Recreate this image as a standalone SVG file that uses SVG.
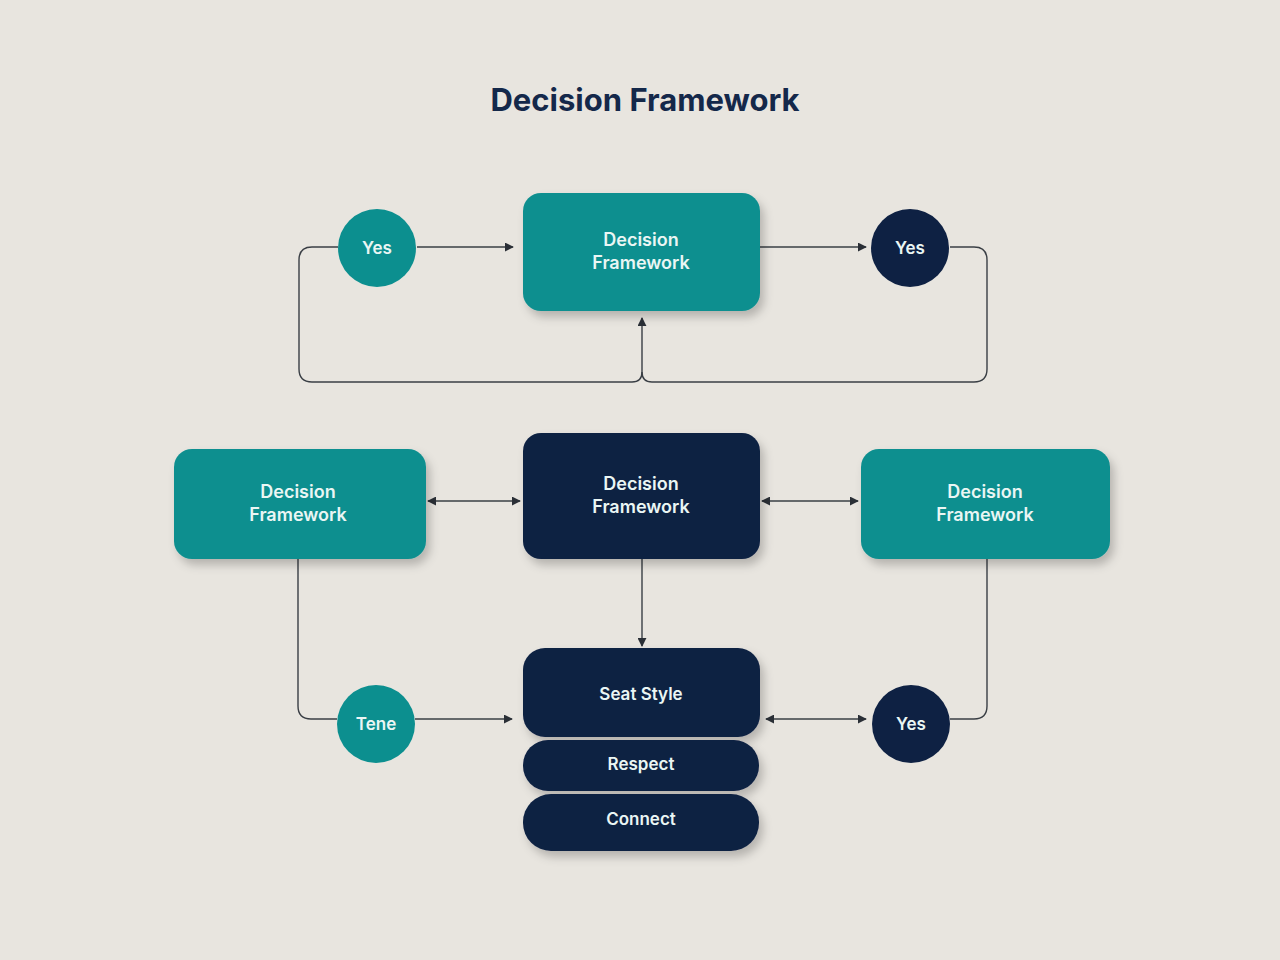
<svg xmlns="http://www.w3.org/2000/svg" width="1280" height="960" viewBox="0 0 1280 960">
<style>
.teal{fill:#0C8F8F}
.navy{fill:#0E2143}
.lbl{font-family:"Inter","Liberation Sans",sans-serif;font-weight:600;fill:#EAF6F4;text-anchor:middle;font-size:18px}
.sm{font-size:17px}
.conn{fill:none;stroke:#3A3F45;stroke-width:1.4}
.title{font-family:"Inter","Liberation Sans",sans-serif;font-weight:700;fill:#14284A;text-anchor:middle;font-size:31px}
</style>
<defs>
<marker id="ah" viewBox="0 0 10 10" refX="9" refY="5" markerWidth="9" markerHeight="9" markerUnits="userSpaceOnUse" orient="auto-start-reverse">
<path d="M0,0 L10,5 L0,10 z" fill="#2A2F36"/>
</marker>
<filter id="sh" x="-20%" y="-20%" width="150%" height="160%">
<feDropShadow dx="4" dy="6" stdDeviation="5" flood-color="#000" flood-opacity="0.22"/>
</filter>
</defs>
<rect width="1280" height="960" fill="#E8E5DF"/>
<text class="title" x="645" y="111">Decision Framework</text>

<g id="connectors">
<line class="conn" x1="417" y1="247" x2="513" y2="247" marker-end="url(#ah)"/>
<line class="conn" x1="760" y1="247" x2="866" y2="247" marker-end="url(#ah)"/>
<path class="conn" d="M338,247 H312 Q299,247 299,260 V369 Q299,382 312,382 H632 Q642,382 642,372 V318" marker-end="url(#ah)"/>
<path class="conn" d="M950,247 H974 Q987,247 987,260 V369 Q987,382 974,382 H652 Q642,382 642,372"/>
<line class="conn" x1="428" y1="501" x2="520" y2="501" marker-start="url(#ah)" marker-end="url(#ah)"/>
<line class="conn" x1="762" y1="501" x2="858" y2="501" marker-start="url(#ah)" marker-end="url(#ah)"/>
<line class="conn" x1="642" y1="559" x2="642" y2="646" marker-end="url(#ah)"/>
<path class="conn" d="M298,559 V706 Q298,719 311,719 H337"/>
<line class="conn" x1="415" y1="719" x2="512" y2="719" marker-end="url(#ah)"/>
<path class="conn" d="M987,559 V706 Q987,719 974,719 H950"/>
<line class="conn" x1="766" y1="719" x2="866" y2="719" marker-start="url(#ah)" marker-end="url(#ah)"/>
</g>

<g id="yes-left"><circle class="teal" cx="377" cy="248" r="39"/><text class="lbl sm" x="377" y="254">Yes</text></g>
<g id="top-box"><rect class="teal" x="523" y="193" width="237" height="118" rx="18" filter="url(#sh)"/><text class="lbl" x="641" y="246">Decision</text><text class="lbl" x="641" y="269">Framework</text></g>
<g id="yes-right"><circle class="navy" cx="910" cy="248" r="39"/><text class="lbl sm" x="910" y="254">Yes</text></g>

<g id="left-box"><rect class="teal" x="174" y="449" width="252" height="110" rx="18" filter="url(#sh)"/><text class="lbl" x="298" y="498">Decision</text><text class="lbl" x="298" y="521">Framework</text></g>
<g id="center-box"><rect class="navy" x="523" y="433" width="237" height="126" rx="18" filter="url(#sh)"/><text class="lbl" x="641" y="490">Decision</text><text class="lbl" x="641" y="513">Framework</text></g>
<g id="right-box"><rect class="teal" x="861" y="449" width="249" height="110" rx="18" filter="url(#sh)"/><text class="lbl" x="985" y="498">Decision</text><text class="lbl" x="985" y="521">Framework</text></g>

<g id="tene"><circle class="teal" cx="376" cy="724" r="39"/><text class="lbl sm" x="376" y="730">Tene</text></g>
<g id="yes-bottom"><circle class="navy" cx="911" cy="724" r="39"/><text class="lbl sm" x="911" y="730">Yes</text></g>

<g id="seat-style"><rect class="navy" x="523" y="648" width="237" height="89" rx="22" filter="url(#sh)"/><text class="lbl sm" x="641" y="700">Seat Style</text></g>
<g id="respect"><rect class="navy" x="523" y="740" width="236" height="51" rx="25" filter="url(#sh)"/><text class="lbl sm" x="641" y="770">Respect</text></g>
<g id="connect"><rect class="navy" x="523" y="794" width="236" height="57" rx="28" filter="url(#sh)"/><text class="lbl sm" x="641" y="825">Connect</text></g>
</svg>
